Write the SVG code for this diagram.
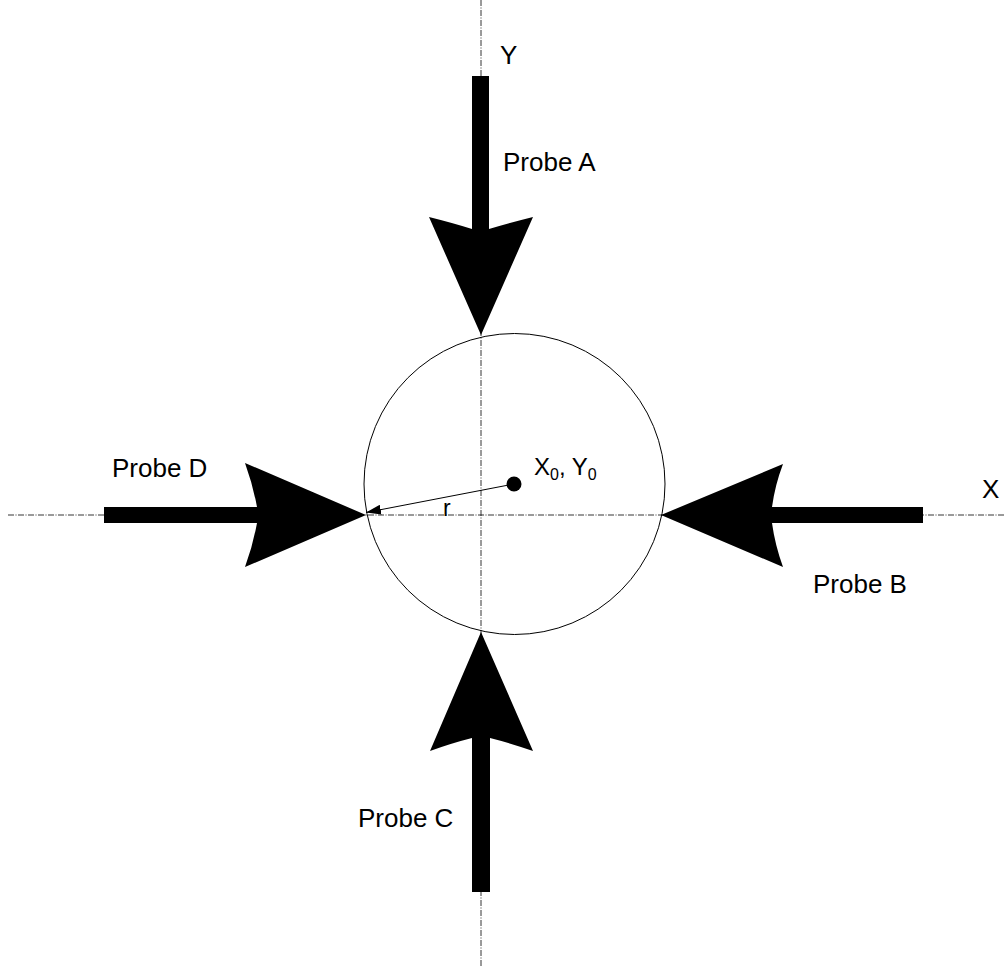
<svg xmlns="http://www.w3.org/2000/svg" width="1005" height="966" viewBox="0 0 1005 966">
<style>
.axis{stroke:#000;stroke-width:0.8;stroke-dasharray:6 1.5 1 1.5;fill:none}
.lbl{font-family:"Liberation Sans",Arial,sans-serif;font-size:26px;fill:#000}
.probe{fill:#000;stroke:none}
</style>
<defs>
<marker id="ah" markerWidth="16" markerHeight="10" refX="15" refY="5" orient="auto" markerUnits="userSpaceOnUse">
<path d="M0,0 L15,5 L0,10 Z" fill="#000"/>
</marker>
</defs>
<rect width="1005" height="966" fill="#fff"/>
<g id="axes">
<line class="axis" x1="481" y1="0" x2="481" y2="966"/>
<line class="axis" x1="8" y1="515" x2="1005" y2="515"/>
<text class="lbl" x="500" y="64">Y</text>
<text class="lbl" x="982" y="498">X</text>
</g>
<g id="workpiece">
<circle cx="514.5" cy="484" r="150.5" fill="none" stroke="#000" stroke-width="1"/>
<circle cx="514" cy="484" r="7.5" fill="#000"/>
<text class="lbl" x="534" y="475" style="font-size:24px">X<tspan style="font-size:16px" dy="5">0</tspan><tspan dy="-5">, Y</tspan><tspan style="font-size:16px" dy="5">0</tspan></text>
</g>
<g id="connectors">
<line x1="514" y1="484" x2="366" y2="512.5" stroke="#000" stroke-width="1" marker-end="url(#ah)"/>
<text class="lbl" x="443" y="516" style="font-size:23px">r</text>
</g>
<g id="probeA">
<path class="probe" d="M472,76 H489 V229 Q509,223 533,217 L481,335 L429,217 Q453,223 472,229 Z"/>
<text class="lbl" x="503" y="171">Probe A</text>
</g>
<g id="probeB">
<path class="probe" d="M923,507 H772 Q775,485 783,464 L661,515 L783,567 Q775,545 772,523 H923 Z"/>
<text class="lbl" x="813" y="593">Probe B</text>
</g>
<g id="probeC">
<path class="probe" d="M472,892 H490 V738 Q510,743 533,751 L481,632 L430,751 Q452,743 472,738 Z"/>
<text class="lbl" x="358" y="827">Probe C</text>
</g>
<g id="probeD">
<path class="probe" d="M104,507 H257 Q253,485 245,463 L366,515 L245,567 Q253,545 257,523 H104 Z"/>
<text class="lbl" x="112" y="477">Probe D</text>
</g>
</svg>
